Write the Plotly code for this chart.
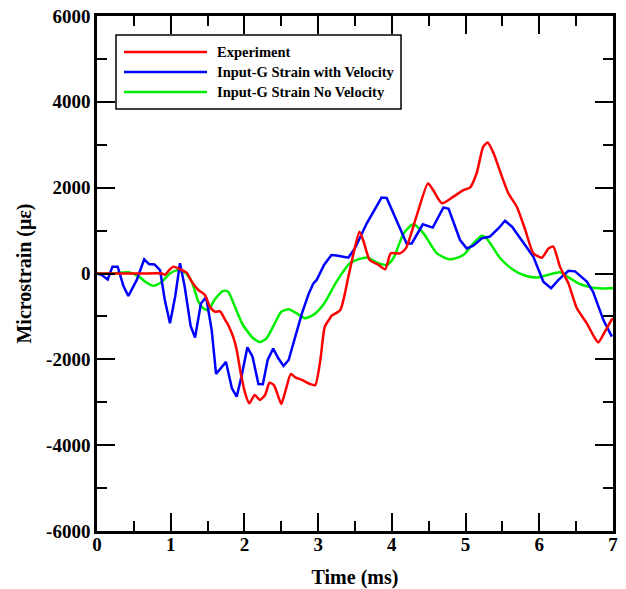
import plotly.graph_objects as go

# ---- data (time in ms, microstrain) ----
exp_t = [0, 0.3, 0.6, 0.88, 0.92, 0.98, 1.035, 1.126, 1.217, 1.285, 1.375, 1.465, 1.53, 1.6, 1.67,
         1.74, 1.78, 1.85, 1.895, 1.95, 2.01, 2.065, 2.14, 2.21, 2.28, 2.34, 2.4, 2.46, 2.5, 2.56,
         2.63, 2.69, 2.78, 2.89, 2.96, 3.03, 3.09, 3.16, 3.18, 3.3, 3.41, 3.48, 3.56, 3.61, 3.7,
         3.82, 3.91, 3.985, 4.11, 4.19, 4.34, 4.49, 4.56, 4.68, 4.835, 4.97, 5.06, 5.15, 5.24, 5.3,
         5.38, 5.47, 5.58, 5.695, 5.81, 5.92, 6.035, 6.125, 6.19, 6.28, 6.395, 6.51, 6.645, 6.73,
         6.8, 6.89, 6.985, 7.0]
exp_v = [0, 0, 0, 0, -30, 80, 160, 100, 20, -190, -385, -500, -770, -890, -880,
         -1085, -1200, -1490, -1780, -2325, -2790, -3025, -2830, -2945, -2830, -2545, -2600, -2870, -3040, -2715,
         -2340, -2420, -2480, -2575, -2600, -2015, -1240, -1045, -990, -850, -75, 470, 975, 780, 315,
         200, 100, 470, 470, 585, 1365, 2100, 1945, 1635, 1790, 1945, 2000, 2335, 2955, 3050,
         2800, 2370, 1870, 1555, 1015, 470, 370, 585, 625, 160, -230, -810, -1160, -1435,
         -1605, -1355, -1070, -1050]

vel_t = [0, 0.06, 0.145, 0.21, 0.28, 0.36, 0.425, 0.54, 0.64, 0.705, 0.78, 0.855, 0.92, 0.99, 1.06,
         1.126, 1.19, 1.27, 1.33, 1.41, 1.48, 1.556, 1.615, 1.75, 1.83, 1.895, 1.96, 2.04, 2.11, 2.19,
         2.25, 2.315, 2.39, 2.46, 2.53, 2.6, 2.69, 2.78, 2.87, 2.935, 2.98, 3.08, 3.18, 3.25, 3.41,
         3.5, 3.66, 3.86, 3.93, 4.04, 4.2, 4.27, 4.42, 4.555, 4.7, 4.77, 4.925, 5.015, 5.105, 5.22,
         5.33, 5.445, 5.535, 5.63, 5.76, 5.92, 6.055, 6.16, 6.26, 6.395, 6.485, 6.645, 6.73, 6.87, 6.985]
vel_v = [0, -30, -140, 160, 160, -300, -525, -150, 330, 220, 210, 80, -620, -1160, -540,
         240, -310, -1220, -1490, -700, -555, -1320, -2340, -2060, -2675, -2870, -2400, -1720, -1940, -2575,
         -2580, -2015, -1750, -1975, -2155, -2015, -1470, -930, -480, -230, -150, 200, 430, 420, 370,
         590, 1170, 1770, 1760, 1325, 700, 700, 1145, 1070, 1540, 1510, 780, 585, 650, 820,
         860, 1050, 1230, 1090, 780, 390, -190, -345, -150, 65, 50, -190, -425, -1085, -1470]

novel_t = [0, 0.2, 0.425, 0.56, 0.675, 0.765, 0.88, 0.99, 1.1, 1.19, 1.285, 1.375, 1.44, 1.51, 1.6,
           1.715, 1.78, 1.87, 1.98, 2.12, 2.21, 2.3, 2.4, 2.5, 2.6, 2.71, 2.82, 2.935, 3.07, 3.25,
           3.43, 3.66, 3.795, 3.93, 4.02, 4.16, 4.29, 4.43, 4.61, 4.79, 4.97, 5.105, 5.22, 5.285, 5.47,
           5.65, 5.785, 5.965, 6.145, 6.28, 6.42, 6.55, 6.73, 6.87, 7.0]
novel_v = [0, 0, 30, -60, -215, -285, -190, 0, 80, 30, -190, -655, -810, -850, -600,
           -405, -425, -770, -1200, -1510, -1595, -1510, -1200, -890, -835, -930, -1040, -965, -730, -190,
           240, 375, 260, 200, 355, 935, 1145, 935, 470, 330, 430, 700, 880, 820, 355,
           80, -35, -95, -20, 30, -115, -245, -330, -350, -340]

series_names = ["Experiment", "Input-G Strain with Velocity", "Input-G Strain No Velocity"]
series_colors = ["#ff0000", "#0000ff", "#00ee00"]

x_ticks = [0, 1, 2, 3, 4, 5, 6, 7]
y_ticks = [-6000, -4000, -2000, 0, 2000, 4000, 6000]
y_ticktext = ["-6000", "-4000", "-2000", "0", "2000", "4000", "6000"]

FONT = "Liberation Serif"

fig = go.Figure()
fig.add_trace(go.Scatter(x=novel_t, y=novel_v, mode="lines", name=series_names[2],
                         line=dict(color=series_colors[2], width=2.5, shape="spline", smoothing=0.6)))
fig.add_trace(go.Scatter(x=vel_t, y=vel_v, mode="lines", name=series_names[1],
                         line=dict(color=series_colors[1], width=2.5)))
fig.add_trace(go.Scatter(x=exp_t, y=exp_v, mode="lines", name=series_names[0],
                         line=dict(color=series_colors[0], width=2.5, shape="spline", smoothing=0.6)))

axis_common = dict(
    showline=True, linecolor="black", linewidth=2.5, mirror="ticks",
    ticks="inside", ticklen=18, tickwidth=2, tickcolor="black",
    showgrid=False, zeroline=False, ticklabeloverflow="allow",
    tickfont=dict(family=FONT, size=19, color="black", weight="bold"),
)

fig.update_xaxes(range=[0, 7], tickmode="array", tickvals=x_ticks, ticklabelstandoff=-6,
                 minor=dict(ticks="inside", ticklen=10, tickwidth=2, tickcolor="black", dtick=0.5, showgrid=False),
                 title=dict(text="<b>Time (ms)</b>", font=dict(family=FONT, size=20, color="black"), standoff=20),
                 **axis_common)
fig.update_yaxes(range=[-6000, 6000], tickmode="array", tickvals=y_ticks, ticktext=y_ticktext,
                 minor=dict(ticks="inside", ticklen=10, tickwidth=2, tickcolor="black", dtick=1000, showgrid=False),
                 title=dict(text="<b>Microstrain (με)</b>", font=dict(family=FONT, size=20, color="black"), standoff=10),
                 **axis_common)

# custom legend (box, sample lines, labels) in paper coordinates
W, H = 516.0, 515.0
def px_x(p):
    return (p - 97) / W
def px_y(p):
    return (531 - p) / H

fig.add_shape(type="rect", xref="paper", yref="paper",
              x0=px_x(116), x1=px_x(401), y0=px_y(109), y1=px_y(35),
              line=dict(color="black", width=1.5), fillcolor="white", layer="above")
rows = [52, 72, 92]
for name, color, row in zip(series_names, series_colors, rows):
    fig.add_shape(type="line", xref="paper", yref="paper",
                  x0=px_x(124), x1=px_x(207), y0=px_y(row), y1=px_y(row),
                  line=dict(color=color, width=2.5), layer="above")
    fig.add_annotation(xref="paper", yref="paper", x=px_x(215), y=px_y(row),
                       text="<b>" + name + "</b>", showarrow=False, xanchor="left", yanchor="middle",
                       font=dict(family=FONT, size=14.5, color="black"))

fig.update_layout(
    width=626, height=589,
    margin=dict(l=97, r=13, t=16, b=58, autoexpand=False),
    paper_bgcolor="white", plot_bgcolor="white",
    showlegend=False,
)

# remove the default 8px page margin so the figure fills the window exactly
fig.write_html("out.html", config={"displayModeBar": False},
               post_script="document.body.style.margin='0px';")
